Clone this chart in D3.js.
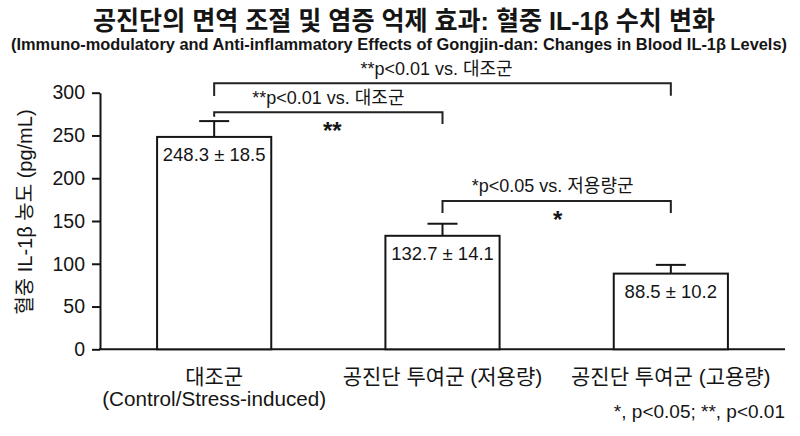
<!DOCTYPE html>
<html><head><meta charset="utf-8">
<script src="https://cdn.jsdelivr.net/npm/d3@7"></script>
<style>
html,body{margin:0;padding:0;background:#fff;}
svg{display:block;font-family:"Liberation Sans",Arial,"Noto Sans CJK KR",sans-serif;}
</style></head>
<body><svg id="c" width="800" height="436"></svg>
<script>
const title = "공진단의 면역 조절 및 염증 억제 효과: 혈중 IL-1β 수치 변화";
const subtitle = "(Immuno-modulatory and Anti-inflammatory Effects of Gongjin-dan: Changes in Blood IL-1β Levels)";
const yLabel = "혈중 IL-1β 농도 (pg/mL)";
const categories = ["대조군", "공진단 투여군 (저용량)", "공진단 투여군 (고용량)"];
const subLabels = ["(Control/Stress-induced)", "", ""];
const means = [248.3, 132.7, 88.5];
const sds = [18.5, 14.1, 10.2];
const yTicks = [0, 50, 100, 150, 200, 250, 300];
const compFrom = [0, 0, 1];
const compTo = [2, 1, 2];
const compLabels = ["**p<0.01 vs. 대조군", "**p<0.01 vs. 대조군", "*p<0.05 vs. 저용량군"];
const compMarks = ["", "**", "*"];
const footnote = "*, p<0.05; **, p<0.01";

// layout (bracket levels in data units)
const bracketLevel = [311, 277, 173.4];
const legFrom = [296, 272, 159.4];
const legTo = [296.5, 263.4, 159.4];
const labelDx = [-6, 0, -4];

const svg = d3.select("#c");
const ink = "#151515";
const x = d3.scaleBand().domain(categories).range([100, 785]).paddingInner(0.5).paddingOuter(0.25);
const y = d3.scaleLinear().domain([0, 300]).range([349.3, 92.7]);

// title
svg.append("text").attr("x", 404).attr("y", 30).attr("text-anchor", "middle")
  .attr("font-size", 26).attr("font-weight", "bold").attr("fill", ink)
  .attr("textLength", 622).attr("lengthAdjust", "spacingAndGlyphs").text(title);
svg.append("text").attr("x", 399).attr("y", 50).attr("text-anchor", "middle")
  .attr("font-size", 16.5).attr("font-weight", "bold").attr("fill", ink)
  .attr("textLength", 776).attr("lengthAdjust", "spacingAndGlyphs").text(subtitle);

// y axis
const yAxis = svg.append("g").attr("transform", "translate(100,0)")
  .call(d3.axisLeft(y).tickValues(yTicks).tickSize(8).tickSizeOuter(0).tickPadding(7));
yAxis.select(".domain").attr("stroke", ink).attr("stroke-width", 2);
yAxis.selectAll(".tick line").attr("stroke", ink).attr("stroke-width", 2);
yAxis.selectAll(".tick text").attr("font-size", 19.5).attr("fill", ink)
  .attr("font-family", "Liberation Sans, Arial, sans-serif");

// x axis line
const xAxis = svg.append("g").attr("transform", `translate(0,${y(0)})`)
  .call(d3.axisBottom(x).tickSize(0).tickSizeOuter(0).tickFormat(""));
xAxis.select(".domain").attr("stroke", ink).attr("stroke-width", 2).attr("d", `M99,0H785`);

// y label
svg.append("text").attr("transform", "translate(25,212) rotate(-90)")
  .attr("text-anchor", "middle").attr("dominant-baseline", "central")
  .attr("font-size", 20).attr("fill", ink).text(yLabel);

// bars
svg.append("g").selectAll("rect").data(means).join("rect")
  .attr("x", (d, i) => x(categories[i]))
  .attr("y", d => y(d))
  .attr("width", x.bandwidth())
  .attr("height", d => y(0) - y(d))
  .attr("fill", "#fff").attr("stroke", ink).attr("stroke-width", 2);

// error bars
const eb = svg.append("g").attr("stroke", ink).attr("stroke-width", 2);
means.forEach((m, i) => {
  const cx = x(categories[i]) + x.bandwidth() / 2;
  eb.append("line").attr("x1", cx).attr("x2", cx).attr("y1", y(m)).attr("y2", y(m + sds[i]));
  eb.append("line").attr("x1", cx - 15).attr("x2", cx + 15).attr("y1", y(m + sds[i])).attr("y2", y(m + sds[i]));
});

// value labels
svg.append("g").selectAll("text").data(means).join("text")
  .attr("x", (d, i) => x(categories[i]) + x.bandwidth() / 2)
  .attr("y", d => y(d) + 24)
  .attr("text-anchor", "middle").attr("font-size", 18.5).attr("fill", ink)
  .text((d, i) => `${d.toFixed(1)} ± ${sds[i].toFixed(1)}`);

// brackets
const br = svg.append("g");
compFrom.forEach((a, k) => {
  const x1 = x(categories[a]) + x.bandwidth() / 2;
  const x2 = x(categories[compTo[k]]) + x.bandwidth() / 2;
  const yl = y(bracketLevel[k]);
  br.append("path")
    .attr("d", `M${x1},${y(legFrom[k])}V${yl}H${x2}V${y(legTo[k])}`)
    .attr("fill", "none").attr("stroke", "#222").attr("stroke-width", 2);
  br.append("text").attr("x", (x1 + x2) / 2 + labelDx[k]).attr("y", yl - 8.5)
    .attr("text-anchor", "middle").attr("font-size", 18).attr("fill", ink).text(compLabels[k]);
  if (compMarks[k]) {
    br.append("text").attr("x", (x1 + x2) / 2 + (k === 1 ? 4 : 1)).attr("y", yl + 27)
      .attr("text-anchor", "middle").attr("font-size", 24).attr("font-weight", "bold")
      .attr("fill", ink).text(compMarks[k]);
  }
});

// category labels
const cl = svg.append("g");
categories.forEach((c, i) => {
  const cx = x(c) + x.bandwidth() / 2;
  cl.append("text").attr("x", cx).attr("y", 384).attr("text-anchor", "middle")
    .attr("font-size", 21).attr("fill", ink).text(c);
  if (subLabels[i]) {
    cl.append("text").attr("x", cx).attr("y", 406).attr("text-anchor", "middle")
      .attr("font-size", 19.5).attr("fill", ink)
      .attr("textLength", 224).attr("lengthAdjust", "spacingAndGlyphs").text(subLabels[i]);
  }
});

// footnote
svg.append("text").attr("x", 785).attr("y", 418).attr("text-anchor", "end")
  .attr("font-size", 19).attr("fill", ink).text(footnote);
</script></body></html>
